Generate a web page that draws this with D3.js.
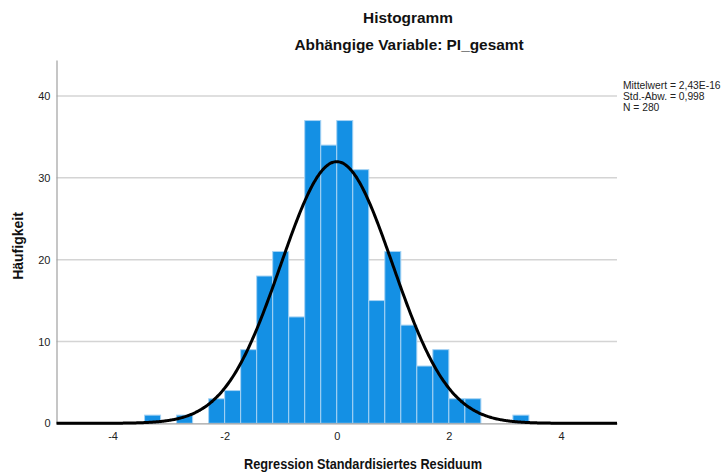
<!DOCTYPE html>
<html>
<head>
<meta charset="utf-8">
<script src="https://cdn.jsdelivr.net/npm/d3@7"></script>
<style>
  html, body { margin: 0; padding: 0; background: #ffffff; }
  svg { display: block; font-family: "Liberation Sans", Arial, sans-serif; }
</style>
</head>
<body>
<svg id="chart" width="724" height="474"></svg>
<script>
// Histogram bins (lower edges, standardized residual) and counts
const binLower = [-3.4286, -3.1429, -2.8571, -2.5714, -2.2857, -2.0, -1.7143, -1.4286,
  -1.1429, -0.8571, -0.5714, -0.2857, 0.0, 0.2857, 0.5714, 0.8571, 1.1429, 1.4286,
  1.7143, 2.0, 2.2857, 2.5714, 2.8571, 3.1429];
const binWidth = 0.2857;
const counts = [1, 0, 1, 0, 3, 4, 9, 18, 21, 13, 37, 34, 37, 31, 15, 21, 12, 7, 9, 3, 3, 0, 0, 1];

// Summary statistics for the normal curve
const stats = { mean: 2.43e-16, sd: 0.998, n: 280 };
const statLabels = ["Mittelwert = 2,43E-16", "Std.-Abw. = 0,998", "N = 280"];

const xTicks = [-4, -2, 0, 2, 4];
const yTicks = [0, 10, 20, 30, 40];

const svg = d3.select("#chart");

const x = d3.scaleLinear().domain([-5, 5]).range([56.5, 617]);
const y = d3.scaleLinear().domain([0, 44.4]).range([423.3, 60]);

// Horizontal grid lines
svg.append("g")
  .selectAll("line")
  .data(yTicks.filter(d => d > 0))
  .join("line")
  .attr("x1", x(-5)).attr("x2", x(5))
  .attr("y1", d => y(d)).attr("y2", d => y(d))
  .attr("stroke", "#d4d4d4")
  .attr("stroke-width", 1.5);

// Bars
const bins = binLower.map((lo, i) => ({ lo, hi: lo + binWidth, count: counts[i] }))
  .filter(b => b.count > 0);

svg.append("g")
  .selectAll("rect")
  .data(bins)
  .join("rect")
  .attr("x", d => x(d.lo))
  .attr("y", d => y(d.count))
  .attr("width", d => x(d.hi) - x(d.lo))
  .attr("height", d => y(0) - y(d.count))
  .attr("fill", "#1490e4")
  .attr("stroke", "#a6d3f4")
  .attr("stroke-width", 1);

// Axes
const yAxis = svg.append("g")
  .attr("transform", `translate(${x(-5)},0)`)
  .call(d3.axisLeft(y).tickValues(yTicks).tickSize(0).tickPadding(6).tickFormat(d3.format("d")));
yAxis.select(".domain").attr("stroke", "#a0a0a0").attr("stroke-width", 1.2);
yAxis.selectAll("text").attr("font-size", 11).attr("fill", "#222").attr("font-family", "Liberation Sans, Arial, sans-serif");

const xAxis = svg.append("g")
  .attr("transform", `translate(0,${y(0)})`)
  .call(d3.axisBottom(x).tickValues(xTicks).tickSize(0).tickPadding(9).tickFormat(d3.format("d")));
xAxis.select(".domain").attr("stroke", "#a0a0a0").attr("stroke-width", 1.2);
xAxis.selectAll("text").attr("font-size", 11).attr("fill", "#222").attr("font-family", "Liberation Sans, Arial, sans-serif")
  .text(d => d < 0 ? "-" + Math.abs(d) : String(d));

// Normal curve scaled to the histogram
const scaleFactor = stats.n * binWidth;
const curvePts = d3.range(-5, 5.0001, 0.02).map(v => [v,
  scaleFactor * Math.exp(-0.5 * Math.pow((v - stats.mean) / stats.sd, 2)) / (stats.sd * Math.sqrt(2 * Math.PI))]);

svg.append("path")
  .datum(curvePts)
  .attr("fill", "none")
  .attr("stroke", "#000")
  .attr("stroke-width", 3)
  .attr("stroke-linejoin", "round")
  .attr("d", d3.line().x(d => x(d[0])).y(d => y(d[1])).curve(d3.curveBasis));

// Titles
svg.append("text")
  .attr("x", 408).attr("y", 23)
  .attr("text-anchor", "middle")
  .attr("font-size", 15.4).attr("font-weight", "bold").attr("fill", "#111")
  .text("Histogramm");
svg.append("text")
  .attr("x", 409).attr("y", 50)
  .attr("text-anchor", "middle")
  .attr("font-size", 15.4).attr("font-weight", "bold").attr("fill", "#111")
  .text("Abhängige Variable: PI_gesamt");

svg.append("text")
  .attr("x", 363).attr("y", 469)
  .attr("text-anchor", "middle")
  .attr("font-size", 14).attr("font-weight", "bold").attr("fill", "#111")
  .attr("textLength", 238).attr("lengthAdjust", "spacingAndGlyphs")
  .text("Regression Standardisiertes Residuum");

svg.append("text")
  .attr("transform", "translate(23,246) rotate(-90)")
  .attr("text-anchor", "middle")
  .attr("font-size", 14).attr("font-weight", "bold").attr("fill", "#111")
  .text("Häufigkeit");

// Statistics legend
svg.append("g")
  .selectAll("text")
  .data(statLabels)
  .join("text")
  .attr("x", 623)
  .attr("y", (d, i) => 89 + i * 11)
  .attr("font-size", 10.3).attr("fill", "#222")
  .text(d => d);
</script>
</body>
</html>
